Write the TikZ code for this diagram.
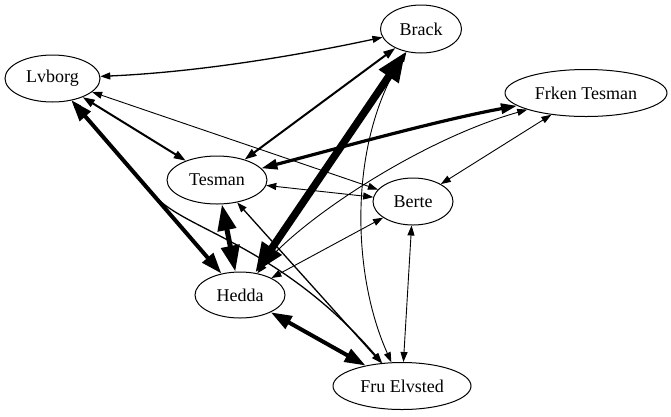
\documentclass[tikz,border=0pt]{standalone}
\usepackage{fontspec}
\setmainfont{Liberation Serif}
\usetikzlibrary{shapes.geometric,arrows.meta}
\tikzset{
  nd/.style={draw, ellipse, line width=1pt, inner sep=0pt, font=\fontsize{18}{20}\selectfont},
  ea/.style={line width=0.9pt, {Triangle[length=10pt,width=7pt]}-{Triangle[length=10pt,width=7pt]}},
  eb/.style={line width=1.3pt, {Triangle[length=10pt,width=7pt]}-{Triangle[length=10pt,width=7pt]}},
  ec/.style={line width=2pt, {Triangle[length=12pt,width=8pt]}-{Triangle[length=12pt,width=8pt]}},
  ed/.style={line width=3.2pt, {Triangle[length=16pt,width=10pt]}-{Triangle[length=16pt,width=10pt]}},
  ee/.style={line width=4pt, {Triangle[length=21pt,width=14pt]}-{Triangle[length=21pt,width=14pt]}},
  ef/.style={line width=5pt, {Triangle[length=26pt,width=18pt]}-{Triangle[length=26pt,width=18pt]}},
  eg/.style={line width=7.5pt, {Triangle[length=30pt,width=22pt]}-{Triangle[length=30pt,width=22pt]}}
}
\begin{document}
\begin{tikzpicture}[x=1pt,y=-1pt]
\useasboundingbox (0,0) rectangle (671,416);
\node[nd, minimum width=95pt, minimum height=47pt] (lv) at (52.5,78.5) {Lvborg};
\node[nd, minimum width=81pt, minimum height=48pt] (br) at (421,29) {Brack};
\node[nd, minimum width=162pt, minimum height=47pt] (fr) at (586,93) {Frken Tesman};
\node[nd, minimum width=100pt, minimum height=48pt] (te) at (217,180) {Tesman};
\node[nd, minimum width=80pt, minimum height=47pt] (be) at (413,201.5) {Berte};
\node[nd, minimum width=90pt, minimum height=46pt] (he) at (240,295) {Hedda};
\node[nd, minimum width=138pt, minimum height=47pt] (fe) at (402,386) {Fru Elvsted};
\coordinate (lvbend) at (155,196);

\draw[eb] (lv) .. controls (200,72) and (300,55) .. (br);
\draw[ec] (lv) -- (te);
\draw[ea] (lv) -- (be);
\draw[eb] (lv) -- (lvbend) .. controls (185,230) and (280,245) .. (fe);
\draw[ee] (lv) -- (he);
\draw[ec] (br) -- (te);
\draw[ea] (br) .. controls (350,140) and (350,270) .. (fe);
\draw[ed] (te) .. controls (350,145) and (440,120) .. (fr);
\draw[ef] (te) -- (he);
\draw[ea] (te) -- (be);
\draw[eb] (te) -- (fe);
\draw[ea] (fr) .. controls (420,140) and (300,220) .. (he);
\draw[ea] (fr) -- (be);
\draw[ea] (be) -- (he);
\draw[ea] (be) -- (fe);
\draw[ee] (he) -- (fe);
\draw[eg] (br) -- (he);
\end{tikzpicture}
\end{document}
